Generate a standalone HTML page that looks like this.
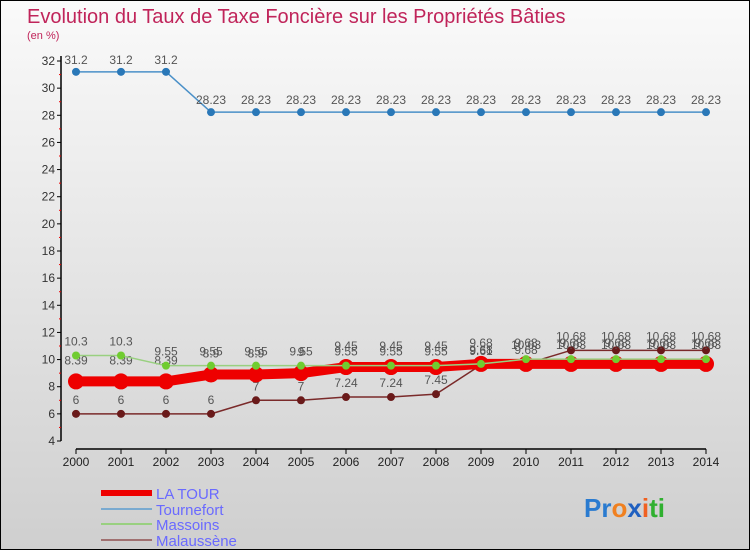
<!DOCTYPE html>
<html><head><meta charset="utf-8"><style>
body{margin:0}
#c{width:750px;height:550px;position:relative;background:linear-gradient(#fafafa,#cfcfcf);box-sizing:border-box;border:1px solid #000;font-family:"Liberation Sans",sans-serif;overflow:hidden}
</style></head><body>
<div id="c">
<svg width="750" height="550" style="position:absolute;left:0;top:0" id="svg">
<text x="26" y="22" font-size="20" fill="#c0245a">Evolution du Taux de Taxe Foncière sur les Propriétés Bâties</text>
<text x="26" y="38" font-size="11" fill="#c0245a">(en %)</text>
<g id="axes"></g><g id="series"></g>
<g>
<line x1="100" y1="492" x2="151" y2="492" stroke="#e00" stroke-width="6"/>
<text x="155" y="498" font-size="15" fill="#6a6aff">LA TOUR</text>
<line x1="100" y1="508" x2="151" y2="508" stroke="#7aaad0" stroke-width="2"/>
<text x="155" y="514" font-size="15" fill="#6a6aff">Tournefort</text>
<line x1="100" y1="523" x2="151" y2="523" stroke="#99d080" stroke-width="2"/>
<text x="155" y="529" font-size="15" fill="#6a6aff">Massoins</text>
<line x1="100" y1="539" x2="151" y2="539" stroke="#a07070" stroke-width="2"/>
<text x="155" y="545" font-size="15" fill="#6a6aff">Malaussène</text>
</g>
<text x="583" y="516" font-size="26" font-weight="bold"><tspan fill="#2a7bd0">Pr</tspan><tspan fill="#f08020">o</tspan><tspan fill="#2060c0">x</tspan><tspan fill="#f06020">i</tspan><tspan fill="#30b030">ti</tspan></text>
</svg>
</div>
<script>
const years=[2000,2001,2002,2003,2004,2005,2006,2007,2008,2009,2010,2011,2012,2013,2014];
const yTicks=[4,6,8,10,12,14,16,18,20,22,24,26,28,30,32];
const laTour=[8.39,8.39,8.39,8.9,8.9,9,9.45,9.45,9.45,9.68,9.68,9.68,9.68,9.68,9.68];
const tournefort=[31.2,31.2,31.2,28.23,28.23,28.23,28.23,28.23,28.23,28.23,28.23,28.23,28.23,28.23,28.23];
const massoins=[10.3,10.3,9.55,9.55,9.55,9.55,9.55,9.55,9.55,9.68,10.03,10.03,10.03,10.03,10.03];
const malaussene=[6,6,6,6,7,7,7.24,7.24,7.45,9.61,9.68,10.68,10.68,10.68,10.68];
const NS="http://www.w3.org/2000/svg";
const X=i=>75+i*45, Y=v=>440-(v-4)*(380/28);
function mk(t,a,p){const e=document.createElementNS(NS,t);for(const k in a)e.setAttribute(k,a[k]);p.appendChild(e);return e;}
const ax=document.getElementById('axes'), sg=document.getElementById('series');
let l=mk('line',{x1:60,y1:55,x2:60,y2:440,stroke:'#000','stroke-width':1.5},ax);

l=mk('line',{x1:75,y1:448,x2:705,y2:448,stroke:'#000','stroke-width':1.5},ax);

yTicks.forEach(v=>{mk('line',{x1:56,y1:Y(v),x2:60,y2:Y(v),stroke:'#000'},ax);
 if(v<32)mk('line',{x1:58,y1:Y(v+1),x2:60,y2:Y(v+1),stroke:'#e00'},ax);
 const t=mk('text',{x:54,y:Y(v)+4,'font-size':12,'text-anchor':'end',fill:'#333'},ax);t.textContent=v;
 });
years.forEach((y,i)=>{mk('line',{x1:X(i),y1:448,x2:X(i),y2:453,stroke:'#000'},ax);
 const t=mk('text',{x:X(i),y:465,'font-size':12,'text-anchor':'middle',fill:'#222'},ax);t.textContent=y;
 });
function series(d,name,col,w,r,pt,dy){
 const g=mk('g',{},sg);
 mk('polyline',{points:d.map((v,i)=>X(i)+','+Y(v)).join(' '),fill:'none',stroke:col,'stroke-width':w,'stroke-linejoin':'round'},g);
 d.forEach((v,i)=>{const c=mk('circle',{cx:X(i),cy:Y(v),r:r,fill:pt},g);
  
  const t=mk('text',{x:X(i),y:Y(v)+dy,'font-size':12,'text-anchor':'middle',fill:'#555'},g);t.textContent=v;
  });
}
series(tournefort,'tournefort','#4a90c8',1.5,4,'#2a78b8',-8);
series(malaussene,'malaussene','#7a2a2a',1.5,4,'#6a1a1a',-10);
series(laTour,'la-tour','#e00',10,8,'#e00',-17);
series(massoins,'massoins','#99d080',1.5,4,'#70cc30',-10);
</script>
</body></html>
